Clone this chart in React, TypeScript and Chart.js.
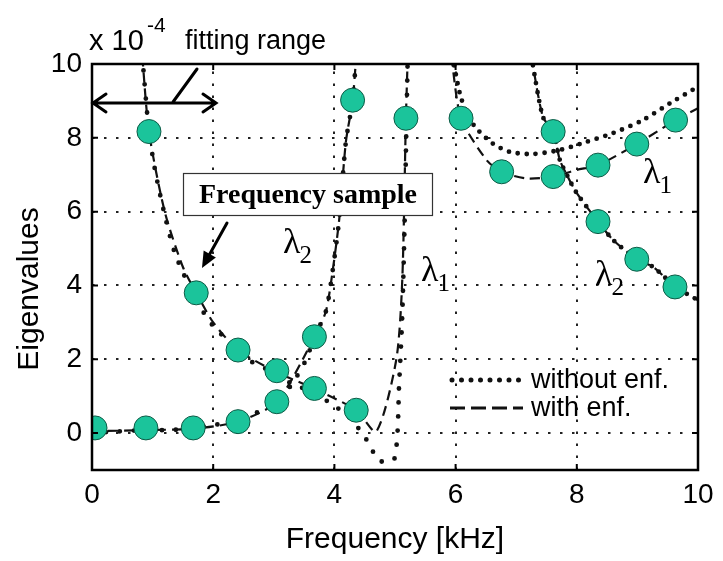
import React, { useEffect, useRef } from 'react';
import { Chart, registerables } from 'chart.js';

Chart.register(...registerables);

// ---------- data (Frequency in kHz, Eigenvalues x 1e-4) ----------
const X_TICKS = [0, 2, 4, 6, 8, 10];
const Y_TICKS = [0, 2, 4, 6, 8, 10];

// frequency samples (green circles)
const sampleX = [0.05, 0.89, 1.67, 2.41, 3.05, 3.67, 4.30, 0.94, 1.72, 2.41, 3.05, 3.67, 4.36, 5.18, 6.09, 7.61, 6.76, 7.61, 8.35, 8.99, 9.63, 8.35, 8.99, 9.62];
const sampleY = [0.14, 0.14, 0.14, 0.31, 0.85, 2.61, 9.02, 8.17, 3.80, 2.25, 1.69, 1.21, 0.62, 8.53, 8.53, 8.17, 7.08, 6.95, 7.26, 7.83, 8.48, 5.73, 4.71, 3.96];

// with enforcement (dashed)
const withFallX = [0.83, 0.94, 1.2, 1.5, 1.72, 2.0, 2.41, 3.05, 3.67, 4.36, 4.69, 5.02, 5.12, 5.18, 5.21];
const withFallY = [10.2, 8.17, 6.0, 4.5, 3.8, 3.0, 2.25, 1.65, 1.2, 0.62, 0.04, 1.98, 4.15, 8.53, 10.2];
const withRiseX = [0.0, 0.89, 1.67, 2.41, 3.05, 3.67, 3.86, 3.98, 4.08, 4.19, 4.30, 4.36];
const withRiseY = [0.05, 0.08, 0.12, 0.31, 0.85, 2.6, 3.3, 4.5, 5.8, 7.9, 9.0, 10.2];
const withRightL1X = [5.93, 6.09, 6.51, 6.76, 7.17, 7.61, 8.0, 8.35, 8.99, 9.63, 10.0];
const withRightL1Y = [10.2, 8.53, 7.4, 7.08, 6.9, 6.95, 7.13, 7.26, 7.83, 8.48, 8.8];
const withRightL2X = [7.25, 7.44, 7.61, 7.72, 7.85, 8.0, 8.35, 8.6, 8.99, 9.26, 9.63, 10.0];
const withRightL2Y = [10.2, 8.57, 8.17, 7.4, 6.95, 6.5, 5.73, 5.23, 4.71, 4.5, 3.96, 3.6];

// without enforcement (dotted)
const woFallX = [0.83, 0.94, 1.05, 1.22, 1.38, 1.72, 2.0, 2.41, 2.58, 3.05, 3.30, 3.67, 3.92, 4.2, 4.46, 4.6, 4.73, 4.99, 5.07, 5.12, 5.16, 5.19, 5.21];
const woFallY = [10.2, 8.17, 7.04, 5.77, 4.82, 3.6, 2.9, 2.25, 1.98, 1.6, 1.33, 1.1, 0.82, 0.5, 0.0, -0.38, -0.75, -0.7, 1.4, 3.2, 5.8, 8.5, 10.2];
const woRiseX = [0.0, 0.36, 0.89, 1.22, 1.67, 1.99, 2.41, 2.71, 3.05, 3.3, 3.53, 3.67, 3.86, 3.98, 4.08, 4.19, 4.30, 4.36];
const woRiseY = [0.0, 0.04, 0.08, 0.08, 0.12, 0.22, 0.31, 0.55, 0.85, 1.33, 1.98, 2.6, 3.3, 4.5, 5.8, 7.9, 9.0, 10.2];
const woRightL1X = [5.95, 6.07, 6.2, 6.34, 6.61, 6.89, 7.27, 7.72, 8.16, 8.6, 9.09, 9.54, 9.92, 10.0];
const woRightL1Y = [10.2, 9.2, 8.6, 8.26, 7.85, 7.62, 7.56, 7.67, 7.89, 8.13, 8.48, 8.94, 9.31, 9.4];
const woRightL2X = withRightL2X;
const woRightL2Y = withRightL2Y;

const zip = (xs: number[], ys: number[]) => xs.map((x, i) => ({ x, y: ys[i] }));

const FONT_SANS = '"Liberation Sans", Arial, Helvetica, sans-serif';
const FONT_SERIF = '"Liberation Serif", "Times New Roman", serif';

const decorPlugin = {
  id: 'decor',
  beforeDatasetsDraw(chart: any) {
    const { ctx, chartArea: a, scales } = chart;
    const xs = scales.x, ys = scales.y;
    ctx.save();
    ctx.strokeStyle = '#222';
    ctx.lineWidth = 2;
    ctx.setLineDash([2.5, 9.5]);
    X_TICKS.forEach((v) => {
      if (v <= 0 || v >= 10) return;
      const p = Math.round(xs.getPixelForValue(v));
      ctx.beginPath();
      ctx.moveTo(p, a.bottom);
      ctx.lineTo(p, a.top);
      ctx.stroke();
    });
    Y_TICKS.forEach((v) => {
      if (v >= 10) return;
      const p = Math.round(ys.getPixelForValue(v));
      ctx.beginPath();
      ctx.moveTo(a.left, p);
      ctx.lineTo(a.right, p);
      ctx.stroke();
    });
    ctx.restore();
  },
  afterDraw(chart: any) {
    const { ctx, chartArea: a, scales } = chart;
    const xs = scales.x, ys = scales.y;
    ctx.save();
    // frame
    ctx.setLineDash([]);
    ctx.strokeStyle = '#000';
    ctx.lineWidth = 2.5;
    ctx.strokeRect(a.left, a.top, a.right - a.left, a.bottom - a.top);
    // inner tick marks
    ctx.lineWidth = 2;
    X_TICKS.forEach((v) => {
      const p = xs.getPixelForValue(v);
      ctx.beginPath();
      ctx.moveTo(p, a.bottom); ctx.lineTo(p, a.bottom - 6);
      ctx.moveTo(p, a.top); ctx.lineTo(p, a.top + 6);
      ctx.stroke();
    });
    Y_TICKS.forEach((v) => {
      const p = ys.getPixelForValue(v);
      ctx.beginPath();
      ctx.moveTo(a.left, p); ctx.lineTo(a.left + 6, p);
      ctx.moveTo(a.right, p); ctx.lineTo(a.right - 6, p);
      ctx.stroke();
    });

    ctx.fillStyle = '#000';
    ctx.textBaseline = 'middle';

    // axis titles
    ctx.font = `30px ${FONT_SANS}`;
    ctx.textAlign = 'center';
    ctx.fillText('Frequency [kHz]', (a.left + a.right) / 2, 540);
    ctx.save();
    ctx.translate(30, 289);
    ctx.rotate(-Math.PI / 2);
    ctx.fillText('Eigenvalues', 0, 0);
    ctx.restore();

    // exponent + fitting range
    ctx.textAlign = 'left';
    ctx.font = `29px ${FONT_SANS}`;
    ctx.fillText('x 10', 89, 42);
    ctx.font = `21px ${FONT_SANS}`;
    ctx.fillText('-4', 147, 26);
    ctx.font = `27px ${FONT_SANS}`;
    ctx.fillText('fitting range', 185, 42);

    // double arrow (fitting range)
    ctx.lineWidth = 3;
    ctx.lineCap = 'round';
    const ay = 103, ax1 = a.left + 1, ax2 = 216;
    ctx.beginPath();
    ctx.moveTo(ax1, ay); ctx.lineTo(ax2, ay);
    ctx.moveTo(ax1 + 13, ay - 9); ctx.lineTo(ax1, ay); ctx.lineTo(ax1 + 13, ay + 9);
    ctx.moveTo(ax2 - 13, ay - 9); ctx.lineTo(ax2, ay); ctx.lineTo(ax2 - 13, ay + 9);
    ctx.moveTo(197, 69); ctx.lineTo(173, 102);
    ctx.stroke();

    // Frequency sample box
    ctx.fillStyle = '#fff';
    ctx.fillRect(183, 173, 250, 43);
    ctx.lineWidth = 1.2;
    ctx.strokeStyle = '#333';
    ctx.strokeRect(183.5, 173.5, 249, 42);
    ctx.fillStyle = '#000';
    ctx.font = `bold 28px ${FONT_SERIF}`;
    ctx.textAlign = 'center';
    ctx.fillText('Frequency sample', 308, 196);

    // pointer arrow
    ctx.strokeStyle = '#000';
    ctx.lineWidth = 3;
    const p0 = { x: 227, y: 223 }, p1 = { x: 202, y: 268 };
    const ang = Math.atan2(p1.y - p0.y, p1.x - p0.x);
    ctx.beginPath();
    ctx.moveTo(p0.x, p0.y);
    ctx.lineTo(p1.x - 10 * Math.cos(ang), p1.y - 10 * Math.sin(ang));
    ctx.stroke();
    ctx.beginPath();
    ctx.moveTo(p1.x, p1.y);
    ctx.lineTo(p1.x - 16 * Math.cos(ang) + 7 * Math.sin(ang), p1.y - 16 * Math.sin(ang) - 7 * Math.cos(ang));
    ctx.lineTo(p1.x - 16 * Math.cos(ang) - 7 * Math.sin(ang), p1.y - 16 * Math.sin(ang) + 7 * Math.cos(ang));
    ctx.closePath();
    ctx.fill();

    // lambda labels
    const lam = (x: number, y: number, sub: string) => {
      ctx.textAlign = 'left';
      ctx.font = `36px ${FONT_SERIF}`;
      ctx.fillText('\u03bb', x, y);
      const w = ctx.measureText('\u03bb').width;
      ctx.font = `25px ${FONT_SERIF}`;
      ctx.fillText(sub, x + w - 1, y + 12);
    };
    lam(283, 244, '2');
    lam(421, 272, '1');
    lam(643, 174, '1');
    lam(595, 276, '2');

    // legend
    ctx.strokeStyle = '#111';
    ctx.lineCap = 'round';
    ctx.lineWidth = 5;
    ctx.setLineDash([0, 9.5]);
    ctx.beginPath();
    ctx.moveTo(452, 380); ctx.lineTo(522, 380);
    ctx.stroke();
    ctx.lineCap = 'butt';
    ctx.lineWidth = 3;
    ctx.setLineDash([15, 6]);
    ctx.beginPath();
    ctx.moveTo(450, 408); ctx.lineTo(523, 408);
    ctx.stroke();
    ctx.setLineDash([]);
    ctx.font = `27px ${FONT_SANS}`;
    ctx.textAlign = 'left';
    ctx.fillText('without enf.', 531, 381);
    ctx.fillText('with enf.', 531, 409);
    ctx.restore();
  },
};

const dashed = (label: string, xs: number[], ys: number[]) => ({
  label,
  data: zip(xs, ys),
  showLine: true,
  borderColor: '#111',
  borderWidth: 2.2,
  borderDash: [10, 6],
  pointRadius: 0,
  tension: 0.25,
  order: 3,
});

const dotted = (label: string, xs: number[], ys: number[], gap: number) => ({
  label,
  data: zip(xs, ys),
  showLine: true,
  borderColor: '#111',
  borderWidth: 4.8,
  borderDash: [0, gap],
  borderCapStyle: 'round',
  pointRadius: 0,
  tension: 0.25,
  order: 2,
});

export default function App() {
  const ref = useRef<HTMLCanvasElement | null>(null);
  useEffect(() => {
    if (!ref.current) return;
    const chart = new Chart(ref.current, {
      type: 'scatter',
      data: {
        datasets: [
          {
            label: 'Frequency sample',
            data: zip(sampleX, sampleY),
            pointRadius: 12,
            pointBackgroundColor: '#1bc49b',
            pointBorderColor: '#0d5a45',
            pointBorderWidth: 1,
            showLine: false,
            order: 1,
          } as any,
          dotted('without enf. (λ2 falling)', woFallX, woFallY, 14),
          dotted('without enf. (λ2 rising)', woRiseX, woRiseY, 14),
          dotted('without enf. (λ1 right)', woRightL1X, woRightL1Y, 9),
          dotted('without enf. (λ2 right)', woRightL2X, woRightL2Y, 9),
          dashed('with enf. (λ2 falling)', withFallX, withFallY),
          dashed('with enf. (λ2 rising)', withRiseX, withRiseY),
          dashed('with enf. (λ1 right)', withRightL1X, withRightL1Y),
          dashed('with enf. (λ2 right)', withRightL2X, withRightL2Y),
        ],
      },
      options: {
        responsive: false,
        animation: false,
        devicePixelRatio: 1,
        layout: { padding: { top: 64, right: 25, left: 0, bottom: 0 } },
        plugins: { legend: { display: false }, tooltip: { enabled: false } },
        scales: {
          x: {
            type: 'linear',
            min: 0,
            max: 10,
            afterBuildTicks: (s: any) => { s.ticks = X_TICKS.map((v) => ({ value: v })); },
            afterFit: (s: any) => { s.height = 91; },
            ticks: { color: '#000', font: { size: 28, family: FONT_SANS }, padding: 8, maxRotation: 0 },
            grid: { display: false, drawTicks: false },
            border: { display: false },
          },
          y: {
            type: 'linear',
            min: -1,
            max: 10,
            afterBuildTicks: (s: any) => { s.ticks = Y_TICKS.map((v) => ({ value: v })); },
            afterFit: (s: any) => { s.width = 92; },
            ticks: { color: '#000', font: { size: 28, family: FONT_SANS }, padding: 10 },
            grid: { display: false, drawTicks: false },
            border: { display: false },
          },
        },
      } as any,
      plugins: [decorPlugin],
    });
    return () => chart.destroy();
  }, []);
  return (
    <div style={{ position: 'absolute', left: 0, top: 0, width: 723, height: 561, background: '#fff' }}>
      <canvas ref={ref} width={723} height={561} />
    </div>
  );
}
